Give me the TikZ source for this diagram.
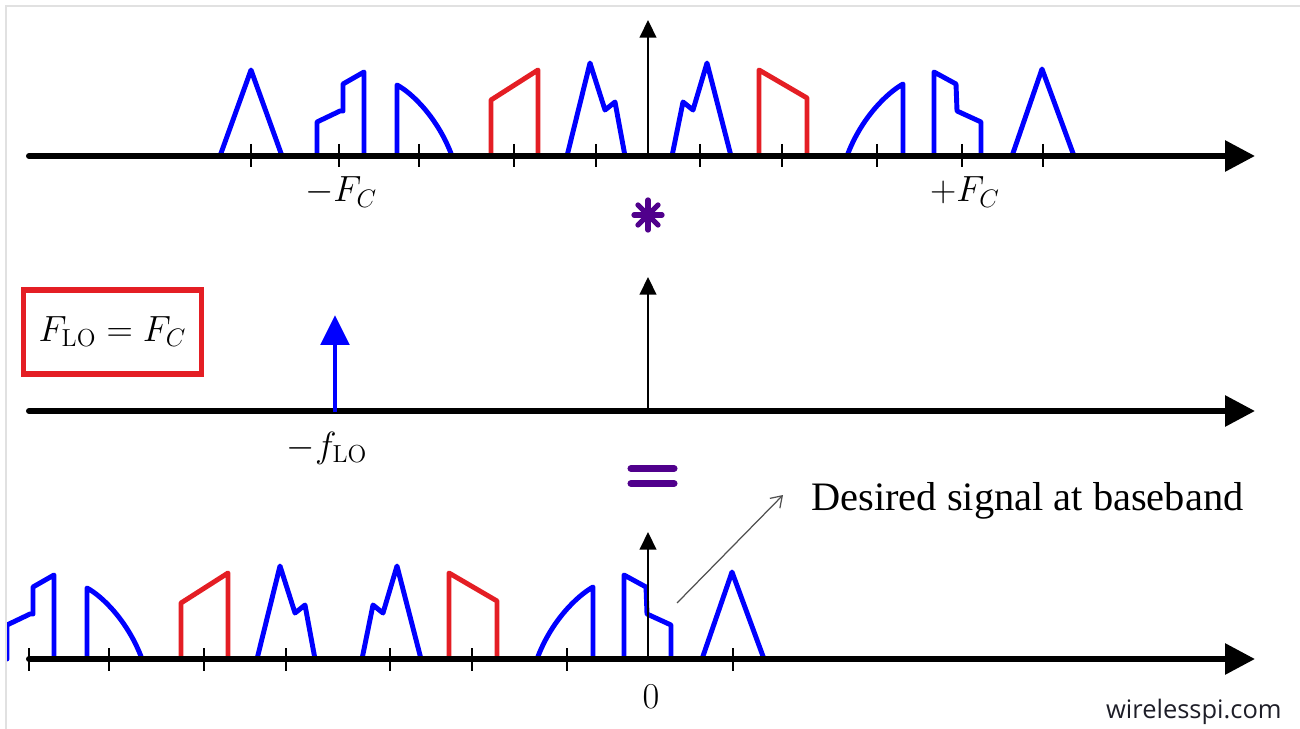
\documentclass[tikz,border=0pt]{standalone}
\usepackage{fontspec}
\newfontfamily\serifsf{Liberation Serif}
\newfontfamily\webfont{Open Sans}
\usetikzlibrary{arrows.meta}
\definecolor{sigblue}{RGB}{0,0,255}
\definecolor{sigred}{RGB}{228,30,36}
\definecolor{oppurple}{RGB}{80,0,140}
\definecolor{framegray}{RGB}{225,225,225}
\definecolor{ptrgray}{RGB}{80,80,80}
\definecolor{wmgray}{RGB}{30,30,40}

\newcommand{\specshapes}{%
  \draw[bluesig] (-428,0) -- (-397,-86) -- (-366,0);
  \draw[bluesig] (-331,0) -- (-331,-34) -- (-308,-45) -- (-305,-45) -- (-305,-72) -- (-284,-84) -- (-284,0);
  \draw[bluesig] (-251,0) -- (-251,-71) .. controls (-236,-63) and (-210,-38) .. (-196,0);
  \draw[redsig] (-157,0) -- (-157,-56) -- (-110,-86) -- (-110,0);
  \draw[bluesig] (-81,0) -- (-58,-93) -- (-43,-46) -- (-33,-54) -- (-23,0);
  \draw[bluesig] (24,0) -- (35,-54) -- (45,-46) -- (59,-93) -- (83,0);
  \draw[redsig] (111,0) -- (111,-86) -- (159,-58) -- (159,0);
  \draw[bluesig] (199,0) .. controls (213,-38) and (239,-63) .. (255,-72) -- (255,0);
  \draw[bluesig] (286,0) -- (286,-84) -- (308,-72) -- (309,-45) -- (333,-34) -- (333,0);
  \draw[bluesig] (364,0) -- (394,-87) -- (426,0);
}

\begin{document}
\begin{tikzpicture}[x=0.02cm,y=-0.02cm,
  bluesig/.style={draw=sigblue,line width=2.8pt,line cap=round,line join=round},
  redsig/.style={draw=sigred,line width=2.8pt,line cap=round,line join=round},
  haxis/.style={line width=3.4pt,line cap=round,-{Triangle[length=17pt,width=17pt]}},
  vaxis/.style={line width=0.9pt,-{Triangle[length=10pt,width=9.5pt]}},
  tickmark/.style={line width=1.3pt},
  mathlbl/.style={inner sep=0pt,font=\fontsize{20}{24}\selectfont},
  opbar/.style={draw=oppurple,line width=3pt,line cap=round},
  ptr/.style={draw=ptrgray,line width=0.7pt,-{Straight Barb[length=6pt,width=8pt]}},
]
\useasboundingbox (0,0) rectangle (1300,729);
\draw[framegray,line width=1.2pt] (6,729) -- (6,6) -- (1300,6);

% ---------- top spectrum ----------
\begin{scope}[shift={(648,156)}]
  \specshapes
\end{scope}
\coordinate (topL) at (29,156);
\coordinate (topR) at (1255,156);
\coordinate (topO) at (648,156);
\coordinate (topU) at (648,20);
\draw[haxis] (topL) -- (topR);
\draw[vaxis] (topO) -- (topU);
\foreach \t in {-397,-309,-229,-134,-52,52,134,229,314,395}
  \draw[tickmark] ({648+\t},144) -- ({648+\t},167);
\node[mathlbl,anchor=base] (mFC) at (341,202) {$-F_C$};
\node[mathlbl,anchor=base] (pFC) at (965,202) {$+F_C$};

% convolution star
\coordinate (conv) at (648,215);
\draw[opbar] (634,215) -- (662,215);
\draw[opbar] (648,200) -- (648,230);
\draw[opbar] (638,205) -- (658,225);
\draw[opbar] (638,225) -- (658,205);

% ---------- middle: LO ----------
\node[draw=sigred,line width=3.2pt,minimum width=101.5pt,minimum height=47.6pt,inner sep=0pt,
      font=\fontsize{20}{24}\selectfont] (lobox) at (112.5,332) {$F_{\mathrm{LO}} = F_C$};
\coordinate (midL) at (29,411);
\coordinate (midR) at (1255,411);
\coordinate (midO) at (648,411);
\coordinate (midU) at (648,277);
\draw[haxis] (midL) -- (midR);
\draw[vaxis] (midO) -- (midU);
\coordinate (loB) at (335,412);
\coordinate (loT) at (335,315);
\draw[draw=sigblue,line width=2.8pt,-{Triangle[length=17pt,width=16pt]}] (loB) -- (loT);
\node[mathlbl,anchor=base] (fLO) at (327,457) {$-f_{\mathrm{LO}}$};

% equals sign
\coordinate (eq) at (652,476);
\draw[draw=oppurple,line width=4pt,line cap=round] (631,468.5) -- (674,468.5);
\draw[draw=oppurple,line width=4pt,line cap=round] (631,483.5) -- (674,483.5);

% ---------- bottom spectrum ----------
\begin{scope}
  \clip (7,0) rectangle (1300,729);
  \begin{scope}[shift={(338,659)}]
    \specshapes
  \end{scope}
\end{scope}
\coordinate (botL) at (29,659);
\coordinate (botR) at (1255,659);
\coordinate (botO) at (648,659);
\coordinate (botU) at (648,532);
\draw[haxis] (botL) -- (botR);
\draw[vaxis] (botO) -- (botU);
\foreach \t in {-309,-229,-134,-52,52,134,229,395}
  \draw[tickmark] ({338+\t},648) -- ({338+\t},671);
\node[mathlbl,anchor=base,font=\fontsize{22}{26}\selectfont] (zero) at (651,708) {$0$};

\node[anchor=base west,inner sep=0pt,font=\serifsf\fontsize{23}{28}\selectfont] (desired) at (811,510) {Desired signal at baseband};
\coordinate (ptrS) at (677,603);
\coordinate (ptrE) at (783,495);
\draw[ptr] (ptrS) -- (ptrE);

\node[anchor=base east,inner sep=0pt,text=wmgray,font=\webfont\fontsize{14.5}{17}\selectfont] (wm) at (1282,718) {wirelesspi.com};
\end{tikzpicture}
\end{document}
